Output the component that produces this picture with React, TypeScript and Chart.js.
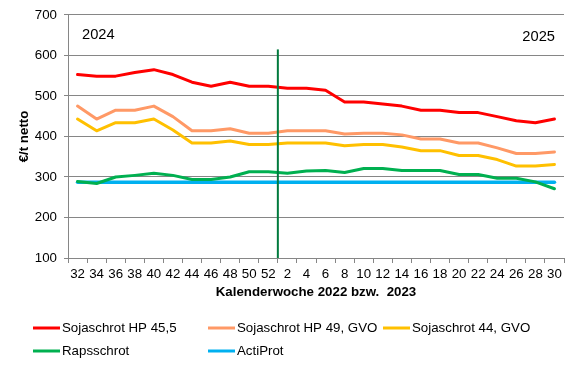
import React, { useEffect, useRef } from "react";
import { Chart, registerables } from "chart.js";

Chart.register(...registerables);

const weeks = ["32","34","36","38","40","42","44","46","48","50","52","2","4","6","8","10","12","14","16","18","20","22","24","26","28","30"];

const sojaHP455 = [553,549,549,558,565,553,534,524,534,524,524,519,519,514,485,485,480,475,465,465,459,459,449,439,434,443];
const sojaHP49 = [475,443,465,465,475,449,414,414,419,408,408,414,414,414,406,408,408,404,394,394,384,384,372,358,358,362];
const soja44 = [443,414,434,434,443,416,384,384,389,380,380,384,384,384,377,380,380,374,365,365,353,353,343,327,327,331];
const raps = [289,284,300,304,309,304,294,294,300,313,313,309,315,316,311,321,321,316,316,316,306,306,297,297,288,271];
const actiProt = [287,287,287,287,287,287,287,287,287,287,287,287,287,287,287,287,287,287,287,287,287,287,287,287,287,287];

const seriesNames = ["Sojaschrot HP 45,5","Sojaschrot HP 49, GVO","Sojaschrot 44, GVO","Rapsschrot","ActiProt"];
const seriesColors = ["#FF0000","#FF9966","#FFC000","#00B050","#00B0F0"];

const yearLeft = "2024";
const yearRight = "2025";
const xTitle = "Kalenderwoche 2022 bzw.  2023";
const yTitle = "€/t netto";
const dividerTopValue = 615;

const FONT = "'Liberation Sans', Arial, sans-serif";

export default function App() {
  const ref = useRef<HTMLCanvasElement | null>(null);
  useEffect(() => {
    if (!ref.current) return;
    const values = [sojaHP455, sojaHP49, soja44, raps, actiProt];
    const overlay = {
      id: "overlay",
      afterDatasetsDraw(chart: any) {
        const ctx = chart.ctx;
        const xs = chart.scales.x;
        const ys = chart.scales.y;
        const area = chart.chartArea;
        ctx.save();
        // divider line between week 52 and week 2
        const xd = xs.getPixelForValue(10.5);
        ctx.strokeStyle = "#007A3D";
        ctx.lineWidth = 2;
        ctx.beginPath();
        ctx.moveTo(xd, ys.getPixelForValue(dividerTopValue));
        ctx.lineTo(xd, area.bottom);
        ctx.stroke();
        // year labels
        ctx.fillStyle = "#000";
        ctx.font = `14.7px ${FONT}`;
        ctx.textBaseline = "middle";
        ctx.textAlign = "left";
        ctx.fillText(yearLeft, area.left + 14, area.top + 20);
        ctx.textAlign = "right";
        ctx.fillText(yearRight, area.right - 9, area.top + 22);
        ctx.restore();
      },
      afterDraw(chart: any) {
        const ctx = chart.ctx;
        const cols = [33, 208, 383];
        const rows = [328, 351];
        ctx.save();
        ctx.font = `13.3px ${FONT}`;
        ctx.textBaseline = "middle";
        ctx.textAlign = "left";
        chart.data.datasets.forEach((ds: any, i: number) => {
          const x = cols[i % 3];
          const y = rows[Math.floor(i / 3)];
          ctx.strokeStyle = ds.borderColor;
          ctx.lineWidth = 3;
          ctx.beginPath();
          ctx.moveTo(x, y);
          ctx.lineTo(x + 27, y);
          ctx.stroke();
          ctx.fillStyle = "#000";
          ctx.fillText(ds.label, x + 29, y);
        });
        ctx.restore();
      },
    };
    const chart = new Chart(ref.current, {
      type: "line",
      data: {
        labels: weeks,
        datasets: seriesNames.map((name, i) => ({
          label: name,
          data: values[i],
          borderColor: seriesColors[i],
          backgroundColor: seriesColors[i],
          borderWidth: i === 4 ? 3.5 : 3,
          pointRadius: 0,
          tension: 0,
          borderJoinStyle: "round" as const,
          borderCapStyle: "round" as const,
          fill: false,
        })),
      },
      options: {
        animation: false,
        responsive: false,
        devicePixelRatio: 1,
        layout: { padding: { left: 0, right: 15, top: 12, bottom: 61 } },
        plugins: { legend: { display: false }, tooltip: { enabled: false } },
        scales: {
          x: {
            offset: true,
            grid: { display: true, drawOnChartArea: false, drawTicks: true, tickLength: 5, offset: true, color: "#868686" },
            border: { color: "#868686" },
            ticks: { autoSkip: false, maxRotation: 0, padding: 3, color: "#000", font: { family: FONT, size: 13.3 } },
            title: { display: true, text: xTitle, color: "#000", font: { family: FONT, size: 13.3, weight: "bold" }, padding: { top: 0, bottom: 7.5 } },
            afterFit(scale: any) { scale.height = 50; },
          },
          y: {
            min: 100,
            max: 700,
            ticks: { stepSize: 100, padding: 7, color: "#000", font: { family: FONT, size: 13.3 } },
            grid: { color: "#868686", tickLength: 4, drawTicks: true },
            border: { color: "#868686" },
            title: { display: true, text: yTitle, color: "#000", font: { family: FONT, size: 13.3, weight: "bold" }, padding: { top: 16, bottom: 0 } },
            afterFit(scale: any) { scale.width = 68; },
          },
        },
      },
      plugins: [overlay],
    });
    return () => chart.destroy();
  }, []);
  return (
    <div style={{ position: "fixed", left: 0, top: 0, width: 579, height: 369, background: "#fff" }}>
      <canvas ref={ref} width={579} height={369} />
    </div>
  );
}
